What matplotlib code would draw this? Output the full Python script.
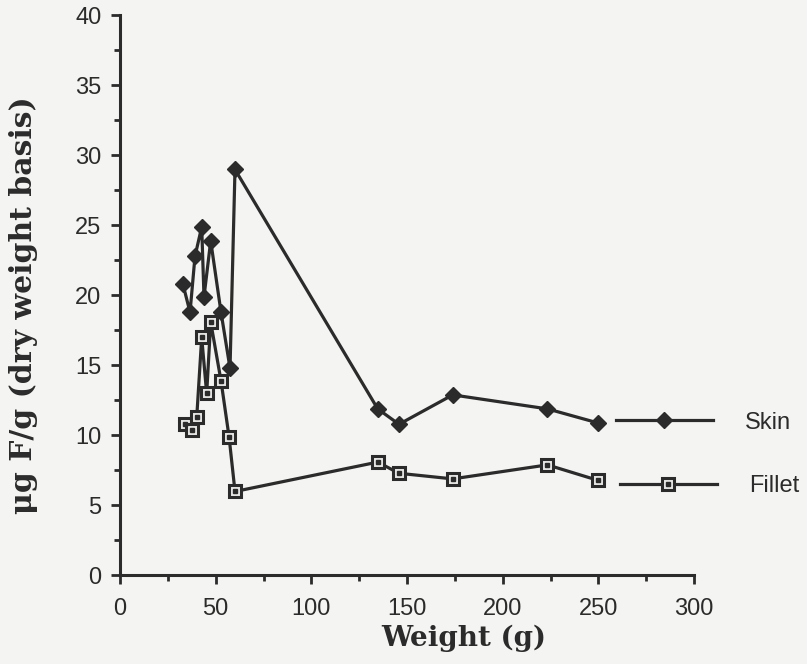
import numpy as np
import matplotlib.pyplot as plt
from matplotlib.legend_handler import HandlerTuple

# Gewicht (g) und Fluorid-Gehalt (µg F/g, Trockengewicht)
skin_weight = [32.9, 36.6, 39.2, 42.7, 43.9, 47.4, 52.8, 57.5, 60.1, 134.7, 145.8, 173.9, 223.4, 249.7]
skin_f = [20.8, 18.8, 22.8, 24.9, 19.9, 23.9, 18.8, 14.8, 29.0, 11.9, 10.8, 12.9, 11.9, 10.9]

fillet_weight = [34.0, 37.5, 40.1, 42.7, 45.3, 47.4, 52.8, 57.0, 60.1, 134.7, 145.8, 173.9, 223.4, 249.7]
fillet_f = [10.8, 10.4, 11.3, 17.0, 13.0, 18.1, 13.9, 9.9, 6.0, 8.1, 7.3, 6.9, 7.9, 6.8]

x_ticks = [0, 50, 100, 150, 200, 250, 300]
y_ticks = [0, 5, 10, 15, 20, 25, 30, 35, 40]

ink = '#2b2b2b'
bg = '#f4f4f2'

fig = plt.figure(figsize=(8.07, 6.64), dpi=100, facecolor=bg)
ax = fig.add_axes([0.1487, 0.1333, 0.7113, 0.8434])
ax.set_facecolor(bg)

skin_line, = ax.plot(skin_weight, skin_f, '-', color=ink, lw=2.3,
                     marker='D', ms=8.5, mfc=ink, mec=ink, clip_on=False, zorder=3)
fillet_line, = ax.plot(fillet_weight, fillet_f, '-', color=ink, lw=2.3,
                       marker='s', ms=8.5, mfc='#e8e8e6', mec=ink, mew=2.2, clip_on=False, zorder=3)
fillet_dot, = ax.plot(fillet_weight, fillet_f, ls='none', marker='s', ms=2.2,
                      mfc=ink, mec=ink, clip_on=False, zorder=4)

ax.set_xlim(0, 300)
ax.set_ylim(0, 40)
ax.set_xticks(x_ticks)
ax.set_yticks(y_ticks)
ax.set_xticks(np.arange(25, 300, 50), minor=True)
ax.set_yticks(np.arange(2.5, 40, 5), minor=True)

for s in ['top', 'right']:
    ax.spines[s].set_visible(False)
for s in ['left', 'bottom']:
    ax.spines[s].set_linewidth(2.2)
    ax.spines[s].set_color(ink)

ax.tick_params(which='major', length=6.5, width=2, color=ink, direction='out')
ax.tick_params(which='minor', length=4, width=2, color=ink, direction='out')
ax.tick_params(labelsize=17, labelcolor=ink, pad=7)
ax.tick_params(axis='x', pad=9.5)
for lab in ax.get_xticklabels() + ax.get_yticklabels():
    lab.set_family('Liberation Sans')

ax.set_xlabel('Weight (g)', family='DejaVu Serif', fontweight='bold', fontsize=20, color=ink)
ax.set_ylabel('\u03bcg F/g (dry weight basis)', family='DejaVu Serif', fontweight='bold',
              fontsize=21.5, color=ink)
ax.xaxis.set_label_coords(0.599, -0.088)
ax.yaxis.set_label_coords(-0.143, 0.483)

# Legende: zwei Zeilen, leicht versetzt wie im Original
leg_kw = dict(loc='center left', frameon=False, borderpad=0, borderaxespad=0,
              handlelength=4.1, handletextpad=1.35, numpoints=1,
              prop={'family': 'Liberation Sans', 'size': 17})
leg1 = ax.legend([skin_line], ['Skin'], bbox_to_anchor=(0.864, 0.273), **leg_kw)
ax.add_artist(leg1)
leg2 = ax.legend([(fillet_line, fillet_dot)], ['Fillet'], handler_map={tuple: HandlerTuple(ndivide=1)},
                 bbox_to_anchor=(0.871, 0.160), **leg_kw)
for leg in (leg1, leg2):
    for t in leg.get_texts():
        t.set_color(ink)

fig.savefig('out.png', dpi=100, facecolor=bg)
